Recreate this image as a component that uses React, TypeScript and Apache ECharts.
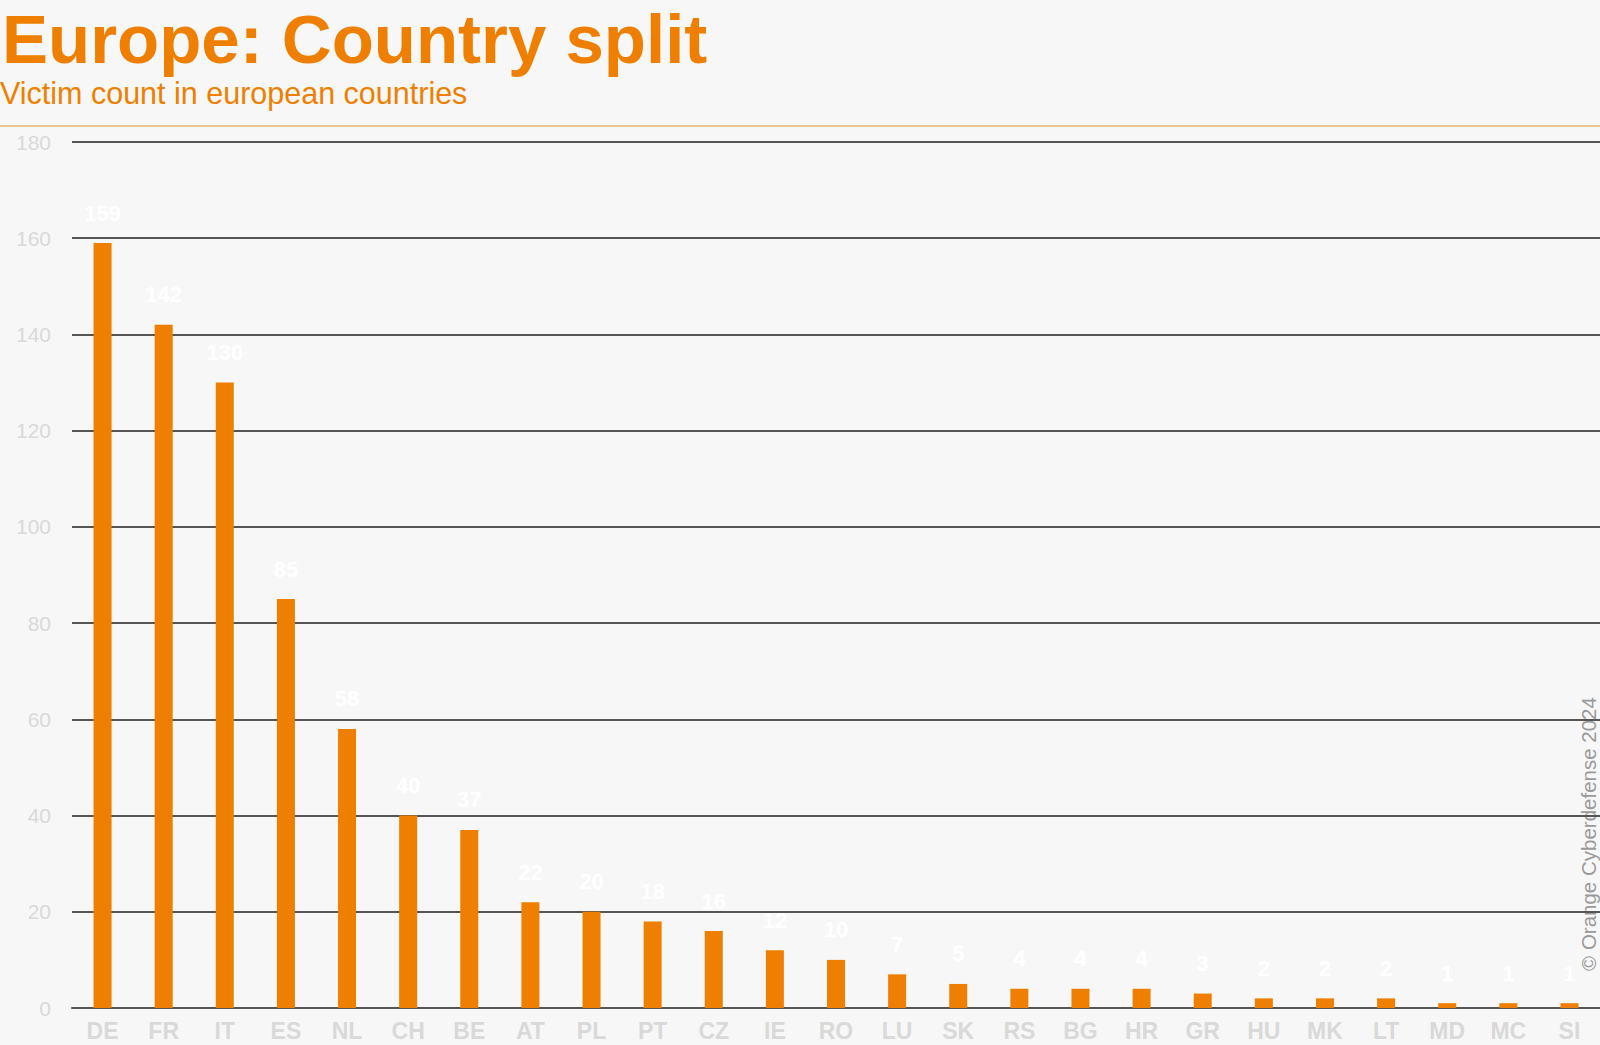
import React, { useEffect, useRef } from "react";
import * as echarts from "echarts";

const countries = ["DE","FR","IT","ES","NL","CH","BE","AT","PL","PT","CZ","IE","RO","LU","SK","RS","BG","HR","GR","HU","MK","LT","MD","MC","SI"];
const victims = [159,142,130,85,58,40,37,22,20,18,16,12,10,7,5,4,4,4,3,2,2,2,1,1,1];
const yMin = 0;
const yMax = 180;
const yStep = 20;

const ORANGE = "#EE7F00";

export default function App() {
  const ref = useRef<HTMLDivElement>(null);
  useEffect(() => {
    document.body.style.margin = "0";
    const chart = echarts.init(ref.current!, null, { renderer: "svg" });
    chart.setOption({
      animation: false,
      backgroundColor: "#f7f7f7",
      textStyle: { fontFamily: "Liberation Sans, Arial, sans-serif" },
      grid: { left: 72, right: 0, top: 142, bottom: 37, containLabel: false },
      graphic: [
        {
          type: "text", left: 2, top: 5,
          style: { text: "Europe: Country split", fill: ORANGE, font: "bold 69px 'Liberation Sans', Arial, sans-serif" },
        },
        {
          type: "text", left: 0, top: 77,
          style: { text: "Victim count in european countries", fill: ORANGE, font: "30.5px 'Liberation Sans', Arial, sans-serif" },
        },
        {
          type: "line", shape: { x1: 0, y1: 126, x2: 1600, y2: 126 },
          style: { stroke: "#e9b36a", lineWidth: 1.5 },
        },
        {
          type: "text", x: 1588, y: 834, rotation: Math.PI / 2,
          style: { text: "© Orange Cyberdefense 2024", fill: "#9a9a9a", font: "20.5px 'Liberation Sans', Arial, sans-serif", align: "center", verticalAlign: "middle" },
        },
      ],
      xAxis: {
        type: "category",
        data: countries,
        axisLine: { show: true, lineStyle: { color: "#555555", width: 2 } },
        axisTick: { show: false },
        axisLabel: { color: "#d9d9d9", fontSize: 23, fontWeight: "bold", margin: 11, interval: 0 },
      },
      yAxis: {
        type: "value",
        min: yMin, max: yMax, interval: yStep,
        axisLine: { show: false },
        axisTick: { show: false },
        axisLabel: { color: "#d9d9d9", fontSize: 21, margin: 21 },
        splitLine: { lineStyle: { color: "#555555", width: 2 } },
      },
      series: [
        {
          type: "bar",
          data: victims,
          barWidth: 18,
          itemStyle: { color: ORANGE },
          label: {
            show: true, position: "top", distance: 19,
            color: "#ffffff", fontSize: 22, fontWeight: "bold",
          },
        },
      ],
    });
    return () => chart.dispose();
  }, []);
  return <div ref={ref} style={{ width: 1600, height: 1045 }} />;
}
